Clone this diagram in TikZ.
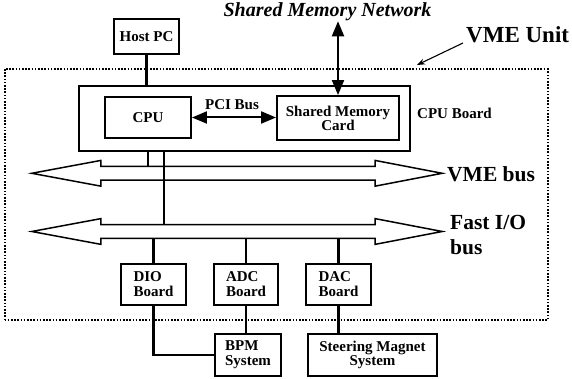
\documentclass[tikz,border=0pt]{standalone}
\usepackage{fontspec}
\setmainfont{Liberation Serif}
\usetikzlibrary{arrows.meta,calc}

\begin{document}
\begin{tikzpicture}[x=1pt,y=1pt,
    box/.style={draw,line width=1.9pt,inner sep=0pt,align=center,
        font=\bfseries\fontsize{15}{14}\selectfont},
    card/.style={box,align=left,minimum width=65,minimum height=41,
        font=\bfseries\fontsize{15}{15}\selectfont},
    unitbox/.style={draw,line width=2pt,dash pattern=on 1.6pt off 1.6pt,
        inner sep=0pt,minimum width=543,minimum height=251.5},
    shaft/.style={inner sep=0pt,minimum width=410,minimum height=13.3},
    busline/.style={line width=1.5pt,line join=miter},
    wire/.style={line width=2.1pt},
    txt/.style={inner sep=0pt,font=\bfseries\fontsize{15}{15}\selectfont},
    buslabel/.style={inner sep=0pt,anchor=west,align=left,
        font=\bfseries\fontsize{21.5}{25}\selectfont},
    bothtips/.style={{Triangle[length=15pt,width=12pt]}-{Triangle[length=15pt,width=12pt]},
        line width=2pt}]
    % \draw[help lines] (0,0) grid (572,379);
    \useasboundingbox (0,0) rectangle (572,379);

    % VME unit frame and its label
    \node[unitbox] (unit) at (276,184.25) {};
    \node[inner sep=0pt,anchor=west,font=\bfseries\fontsize{23}{23}\selectfont]
        (unitname) at (466,344) {VME Unit};
    \coordinate (unittip) at (417,314);
    \draw[-{Stealth[length=8pt,width=6pt]},line width=1.1pt]
        ([xshift=-3pt,yshift=-8pt]unitname.west) -- (unittip);

    % host and network
    \node[box,minimum width=65,minimum height=35] (host) at (146.5,342.5) {Host PC};
    \node[inner sep=0pt,font=\bfseries\itshape\fontsize{20}{20}\selectfont]
        (net) at (327.5,367) {Shared Memory Network};

    % CPU board
    \node[box,minimum width=331,minimum height=65] (board) at (244.5,260.5) {};
    \node[box,minimum width=86,minimum height=41] (cpu) at (148,261.5) {CPU};
    \node[box,minimum width=122,minimum height=44] (smc) at (338,261) {Shared Memory\\Card};
    \node[txt] (pci) at (232,274) {PCI Bus};
    \node[txt] (boardname) at (454.5,266) {CPU Board};

    \draw[wire] (host.south) -- (host.south |- board.north);
    \draw[bothtips] (cpu.east) -- (cpu.east -| smc.west);
    \draw[bothtips] (smc.north |- net.south) -- (smc.north);

    % buses
    \node[shaft] (vme) at (237,205.7) {};
    \node[shaft] (fast) at (237,147.5) {};
    \foreach \b in {vme,fast}
        \draw[busline] (\b.west) -- ([xshift=69pt,yshift=6pt]\b.north west)
            -- ([xshift=69pt]\b.north west) -- ([xshift=-67pt]\b.north east)
            -- ([xshift=-67pt,yshift=6pt]\b.north east) -- (\b.east)
            -- ([xshift=-67pt,yshift=-6pt]\b.south east) -- ([xshift=-67pt]\b.south east)
            -- ([xshift=69pt]\b.south west) -- ([xshift=69pt,yshift=-6pt]\b.south west)
            -- cycle;
    \node[buslabel] (vmename) at (447,205) {VME bus};
    \node[buslabel] (fastname) at (450,143.5) {Fast I/O\\bus};

    \draw[wire] (board.south -| cpu.south) -- (cpu.south |- vme.north);
    \draw[wire] ($(board.south -| cpu.south)+(16,0)$) -- ($(cpu.south |- fast.north)+(16,0)$);

    % I/O boards
    \node[card] (dio) at (153.5,94.5) {DIO\\Board};
    \node[card,minimum width=64] (adc) at (246,94.5) {ADC\\Board};
    \node[card] (dac) at (338.5,94.5) {DAC\\Board};
    \foreach \c in {dio,adc,dac}
        \draw[wire] (\c.north) -- (\c.north |- fast.south);

    % outside systems
    \node[card,minimum width=66,minimum height=42] (bpm) at (248,24) {BPM\\System};
    \node[box,minimum width=129,minimum height=42] (sms) at (372.5,24) {Steering Magnet\\System};

    \draw[wire] (dio.south) |- (bpm.west);
    \draw[wire] (adc.south) -- (adc.south |- bpm.north);
    \draw[wire] (dac.south) -- (dac.south |- sms.north);
\end{tikzpicture}
\end{document}
